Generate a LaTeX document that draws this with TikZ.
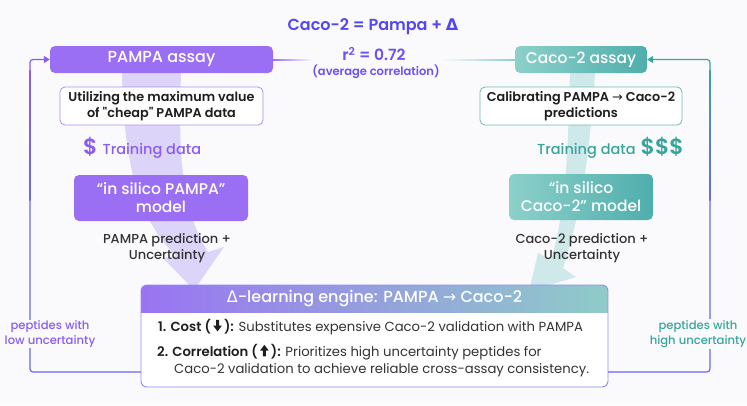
\documentclass[tikz,border=0pt]{standalone}
\usepackage{fontspec}
\setmainfont{Poppins}
\newfontfamily\med{Poppins Medium}
\newfontfamily\semi{Poppins SemiBold}
\newfontfamily\symf{DejaVu Sans}
\newfontfamily\symb{DejaVu Sans Bold}
\usetikzlibrary{arrows.meta}
\definecolor{bg}{HTML}{FAFAFD}
\definecolor{pbox}{HTML}{9B6FF3}
\definecolor{ptext}{HTML}{8A5CF2}
\definecolor{pfaint}{HTML}{DDD4FA}
\definecolor{tealL}{HTML}{8CD0CA}
\definecolor{tealR}{HTML}{4FAEAC}
\definecolor{ttext}{HTML}{38A59D}
\definecolor{tfaint}{HTML}{CFE9EA}
\definecolor{titleblue}{HTML}{5446F0}
\definecolor{rblue}{HTML}{6A52F3}
\definecolor{loopblue}{HTML}{6A66F2}
\definecolor{engborder}{HTML}{8C8CF8}
\definecolor{hdrL}{HTML}{9A74F2}
\definecolor{hdrR}{HTML}{8FCCC8}
\definecolor{dark}{HTML}{1E1E1E}
\definecolor{mid}{HTML}{333333}
\newcommand\dnarr{\tikz[baseline=-0.5pt,x=1pt,y=1pt]{\fill (1.6,11) -- (4.6,11) -- (4.6,5.2) -- (7.4,5.2) -- (3.1,-0.5) -- (-1.2,5.2) -- (1.6,5.2) -- cycle;}}
\newcommand\uparr{\tikz[baseline=-0.5pt,x=1pt,y=1pt]{\fill (1.6,-0.5) -- (4.6,-0.5) -- (4.6,5.3) -- (7.4,5.3) -- (3.1,11) -- (-1.2,5.3) -- (1.6,5.3) -- cycle;}}
\tikzset{
  purplebox/.style={fill=pbox, rounded corners=5pt, text=white, align=center, inner sep=2pt},
  tealbox/.style={left color=tealL, right color=tealR, rounded corners=5pt, text=white, align=center, inner sep=2pt},
  notebox/.style={fill=white, rounded corners=5pt, align=center, inner sep=2pt, line width=0.8pt, text=dark,
    font=\fontsize{12.8}{15.5}\selectfont\semi},
  predtext/.style={align=center, text=mid, font=\fontsize{13}{16}\selectfont\med},
  looplabel/.style={align=center, fill=bg, inner sep=1pt, font=\fontsize{11.6}{15}\selectfont\med},
  loopline/.style={line width=1.2pt, rounded corners=3pt},
  bodytext/.style={anchor=west, text=mid, font=\fontsize{13.2}{16}\selectfont, inner sep=0pt},
}
\begin{document}
\begin{tikzpicture}[x=1pt, y=-1pt]
\fill[bg] (0,0) rectangle (747,405);
\useasboundingbox (0,0) rectangle (747,405);

% faint flow arrows
\fill[pfaint] (122,73) .. controls (124,170) and (140,220) .. (176,256)
  -- (163,258) -- (194,290) -- (224,247) -- (208,252)
  .. controls (182,210) and (178,160) .. (181,73) -- cycle;
\fill[tfaint] (570,73) .. controls (568,150) and (566,210) .. (551,260)
  -- (538,253) -- (529,291) -- (576,277) -- (563,268)
  .. controls (582,210) and (590,150) .. (595,73) -- cycle;

% titles
\node[text=titleblue, font=\fontsize{16}{20}\selectfont\semi] (eq) at (373,27) {Caco-2 = Pampa + {\symb Δ}};
\node[text=rblue, font=\fontsize{15.5}{19}\selectfont\semi] (r2) at (374,54) {r\textsuperscript{2} = 0.72};
\node[text=rblue, font=\fontsize{11.5}{13}\selectfont\semi] (avg) at (376,72) {(average correlation)};

% assay boxes
\node[purplebox, minimum width=223pt, minimum height=27pt, font=\fontsize{16}{19}\selectfont\med] (pampa) at (161.5,59.5) {PAMPA assay};
\node[tealbox, minimum width=132pt, minimum height=27pt, font=\fontsize{15.5}{19}\selectfont\med] (caco) at (581,59.5) {Caco-2 assay};
\coordinate (pl) at (312,59.5);
\coordinate (cl) at (440,59.5);
\shade[left color=pbox, right color=bg] (pampa.east) ++(0,-0.5) rectangle (pl |- 0,60);
\shade[left color=bg, right color=tealL] (cl |- 0,59) rectangle (caco.west |- 0,60);

% note boxes
\node[notebox, draw=pbox!80, minimum width=203pt, minimum height=38pt] (util) at (161.5,106) {Utilizing the maximum value\\of "cheap" PAMPA data};
\node[notebox, draw=tealR!85, minimum width=202pt, minimum height=38pt] (calib) at (581,106) {Calibrating PAMPA {\symf →} Caco-2\\predictions};

% training data
\node[anchor=west, text=ptext, font=\fontsize{14.5}{16}\selectfont\med, inner sep=0pt] (tdl) at (83,148) {{\fontsize{22}{22}\selectfont\semi\$}\hspace{5pt}Training data};
\node[anchor=east, text=ttext, font=\fontsize{14.5}{16}\selectfont\med, inner sep=0pt] (tdr) at (684,148) {Training data\hspace{5pt}{\fontsize{22}{22}\selectfont\semi\$\$\$}};

% model boxes
\node[purplebox, minimum width=174pt, minimum height=46pt, font=\fontsize{15.5}{18}\selectfont\med] (pmodel) at (161,198) {“in silico PAMPA”\\model};
\node[tealbox, minimum width=144pt, minimum height=46pt, font=\fontsize{15.5}{18}\selectfont\med] (cmodel) at (581,197) {“in silico\\Caco-2” model};

% predictions
\node[predtext] (ppred) at (167,248) {PAMPA prediction +\\Uncertainty};
\node[predtext] (cpred) at (582,248) {Caco-2 prediction +\\Uncertainty};

% engine box
\node[fill=white, rounded corners=6pt, minimum width=467pt, minimum height=102pt, inner sep=0pt] (engine) at (374.5,336) {};
\begin{scope}
  \clip[rounded corners=6pt] (141,285) rectangle (608,387);
  \shade[left color=hdrL, right color=hdrR] (141,285) rectangle (608,312);
\end{scope}
\draw[engborder, line width=0.9pt, rounded corners=6pt] (141,285) rectangle (608,387);
\node[text=white, font=\fontsize{16}{19}\selectfont\med] (hdr) at (374.5,298.5) {{\symf Δ}-learning engine: PAMPA {\symf →} Caco-2};
\node[bodytext] (b1) at (158,327) {{\semi\color{dark}1. Cost (\,\dnarr\,):} Substitutes expensive Caco-2 validation with PAMPA};
\node[bodytext] (b2) at (157,352) {{\semi\color{dark}2. Correlation (\,\uparr\,):} Prioritizes high uncertainty peptides for};
\node[bodytext] (b3) at (174,370) {Caco-2 validation to achieve reliable cross-assay consistency.};

% loops
\coordinate (lbot) at (30,372);
\coordinate (rbot) at (710,372);
\draw[loopline, loopblue] (engine.west |- lbot) -- (lbot) -- (30,200);
\shade[top color=ptext, bottom color=loopblue] (29.4,70) rectangle (30.6,200);
\draw[loopline, ptext, -{Triangle[length=6pt,width=7pt]}] (30,72) |- (pampa.west);
\draw[loopline, loopblue] (engine.east |- rbot) -- (rbot) -- (710,200);
\shade[top color=ttext, bottom color=loopblue] (709.4,70) rectangle (710.6,200);
\draw[loopline, ttext, -{Triangle[length=6pt,width=7pt]}] (710,72) |- (caco.east);

\node[looplabel, text=ptext] (llab) at (50,334) {peptides with\\low uncertainty};
\node[looplabel, text=ttext] (rlab) at (698,334) {peptides with\\high uncertainty};
\end{tikzpicture}
\end{document}
